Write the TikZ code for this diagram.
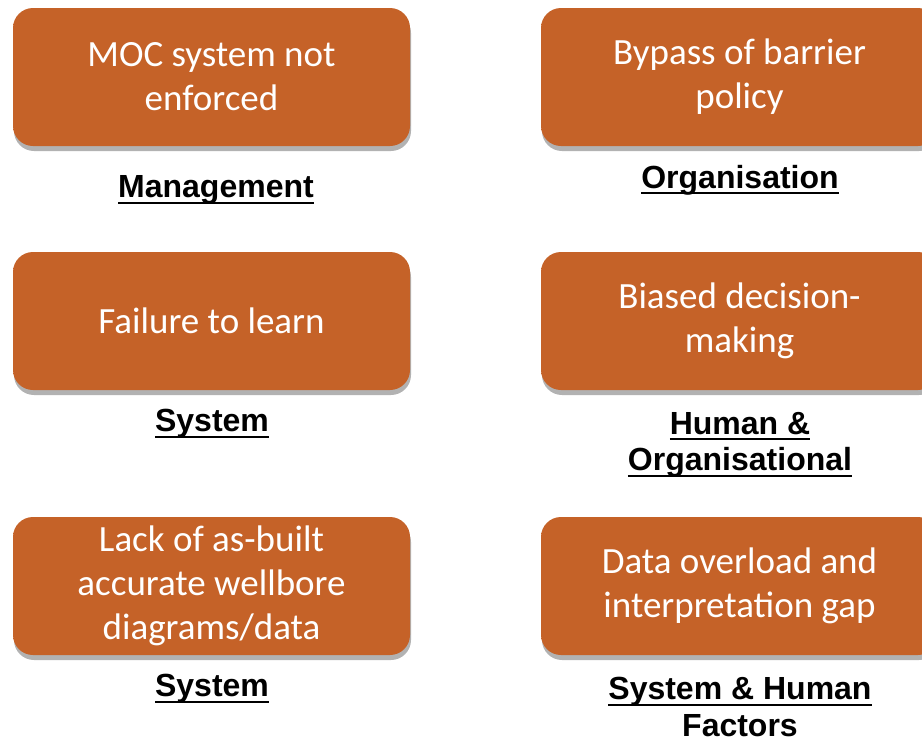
\documentclass[tikz,border=0pt]{standalone}
\usepackage{fontspec}
\setmainfont{Liberation Sans}
\newfontfamily\boxfont{Carlito}
\usetikzlibrary{shadows}
\definecolor{rust}{RGB}{197,98,40}
\definecolor{rustlight}{RGB}{226,134,74}
\definecolor{rustdark}{RGB}{160,76,30}
\pgfdeclareverticalshading{rustfill}{100bp}{color(0bp)=(rustdark); color(8bp)=(rust); color(88bp)=(rust); color(100bp)=(rustlight)}
\newsavebox{\ulbox}
\newcommand{\lineunder}[1]{\sbox{\ulbox}{#1}\rlap{\rule[-6pt]{\wd\ulbox}{2pt}}\usebox{\ulbox}}
\tikzset{
  cause/.style={rounded corners=20pt, minimum width=397pt, minimum height=138pt, inner sep=0pt,
    shading=rustfill, text=white, align=center, font=\boxfont\fontsize{37}{44}\selectfont,
    drop shadow={shadow xshift=1pt, shadow yshift=-5pt, fill=black, opacity=0.3}},
  kind/.style={align=center, inner sep=0pt, font=\bfseries\fontsize{32}{36.5}\selectfont}
}
\begin{document}
\begin{tikzpicture}[x=1pt,y=-1pt]
\useasboundingbox (0,0) rectangle (922,742);
\clip (0,0) rectangle (922,742);
% left column
\node[cause] (moc) at (211.5,77) {MOC system not\\enforced};
\node[kind] (mgmt) at (216,190) {\lineunder{Management}};
\node[cause] (learn) at (211.5,321) {Failure to learn};
\node[kind] (sys1) at (212,424) {\lineunder{System}};
\node[cause] (wellbore) at (211.5,586) {Lack of as-built\\accurate wellbore\\diagrams/data};
\node[kind] (sys2) at (212,689) {\lineunder{System}};
% right column
\node[cause] (bypass) at (739.5,77) {Bypass of barrier\\policy};
\node[kind] (org) at (740,180) {\lineunder{Organisation}};
\node[cause] (biased) at (739.5,321) {Biased decision-\\making};
\node[kind] (humorg) at (740,445) {\lineunder{Human \&}\\\lineunder{Organisational}};
\node[cause] (overload) at (739.5,586) {Data overload and\\interpretation gap};
\node[kind] (syshum) at (740,707) {\lineunder{System \& Human}\\Factors};
\end{tikzpicture}
\end{document}
